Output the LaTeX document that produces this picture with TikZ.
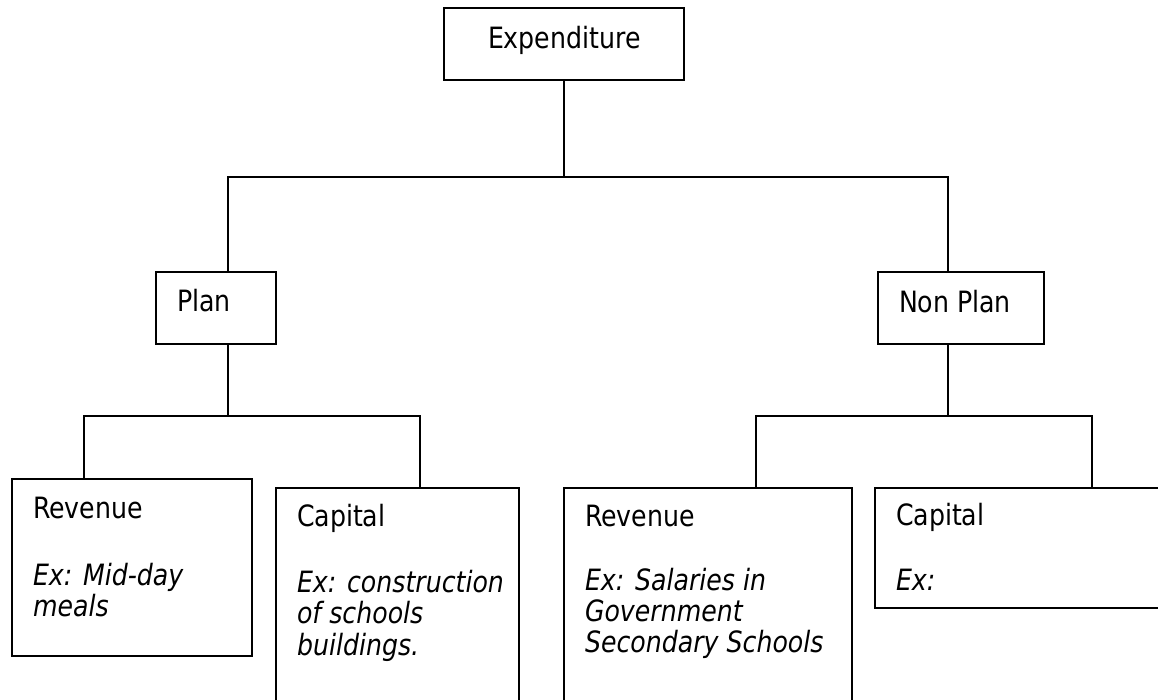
\documentclass[tikz,border=0pt]{standalone}
\usepackage{fontspec}
\setmainfont{DejaVu Sans}[FakeStretch=0.86]
\begin{document}
\begin{tikzpicture}[x=0.75pt,y=-0.75pt,
  line width=1.5pt, line join=miter,
  box/.style={draw=black, line width=1.5pt, rectangle, inner sep=0pt, anchor=north west},
  txt/.style={inner sep=0pt, anchor=base west, font=\fontsize{22pt}{23.4pt}\selectfont},
  ex/.style={inner sep=0pt, anchor=base west, font=\fontsize{22pt}{23.4pt}\selectfont\itshape},
  conn/.style={draw=black, line width=1.5pt}]
\useasboundingbox (0,0) rectangle (1158,700);
\clip (0,0) rectangle (1158,700);
\fill[white] (0,0) rectangle (1158,700);
% boxes
\node[box, minimum width=180pt, minimum height=54pt] (exp) at (443,7) {};
\node[box, minimum width=90pt, minimum height=54pt] (plan) at (155,271) {};
\node[box, minimum width=124.5pt, minimum height=54pt] (nonplan) at (877,271) {};
\node[box, minimum width=180pt, minimum height=132.75pt] (revL) at (11,478) {};
\node[box, minimum width=182.25pt, minimum height=167.25pt] (capL) at (275,487) {};
\node[box, minimum width=216pt, minimum height=167.25pt] (revR) at (563,487) {};
\node[box, minimum width=225pt, minimum height=90pt] (capR) at (874,487) {};
% texts
\node[txt] (expT) at (487,48) {Expenditure};
\node[txt] (planT) at (176,311) {Plan};
\node[txt] (nonplanT) at (898,312) {Non Plan};
\node[txt] (revLT) at (32,518) {Revenue};
\node[ex] (revLE) at (32,585) {\begin{tabular}[t]{@{}l@{}}Ex: Mid-day\\ meals\end{tabular}};
\node[txt] (capLT) at (296,526) {Capital};
\node[ex] (capLE) at (296,592) {\begin{tabular}[t]{@{}l@{}}Ex: construction\\ of schools\\ buildings.\end{tabular}};
\node[txt] (revRT) at (584,526) {Revenue};
\node[ex] (revRE) at (584,590) {\begin{tabular}[t]{@{}l@{}}Ex: Salaries in\\ Government\\ Secondary Schools\end{tabular}};
\node[txt] (capRT) at (895,525) {Capital};
\node[ex] (capRE) at (895,590) {Ex:};
% connectors
\draw[conn] (exp.south) -- ++(0,96) coordinate (t1);
\draw[conn] (t1) -| ([xshift=9pt]plan.north);
\draw[conn] (t1) -| ([xshift=-9.75pt]nonplan.north);
\draw[conn] ([xshift=9pt]plan.south) -- ++(0,71) coordinate (t2);
\draw[conn] (t2) -| ([xshift=-36pt]revL.north);
\draw[conn] (t2) -| ([xshift=16.875pt]capL.north);
\draw[conn] ([xshift=-9.75pt]nonplan.south) -- ++(0,71) coordinate (t3);
\draw[conn] (t3) -| ([xshift=36pt]revR.north);
\draw[conn] (t3) -| ([xshift=50.25pt]capR.north);
\end{tikzpicture}
\end{document}
